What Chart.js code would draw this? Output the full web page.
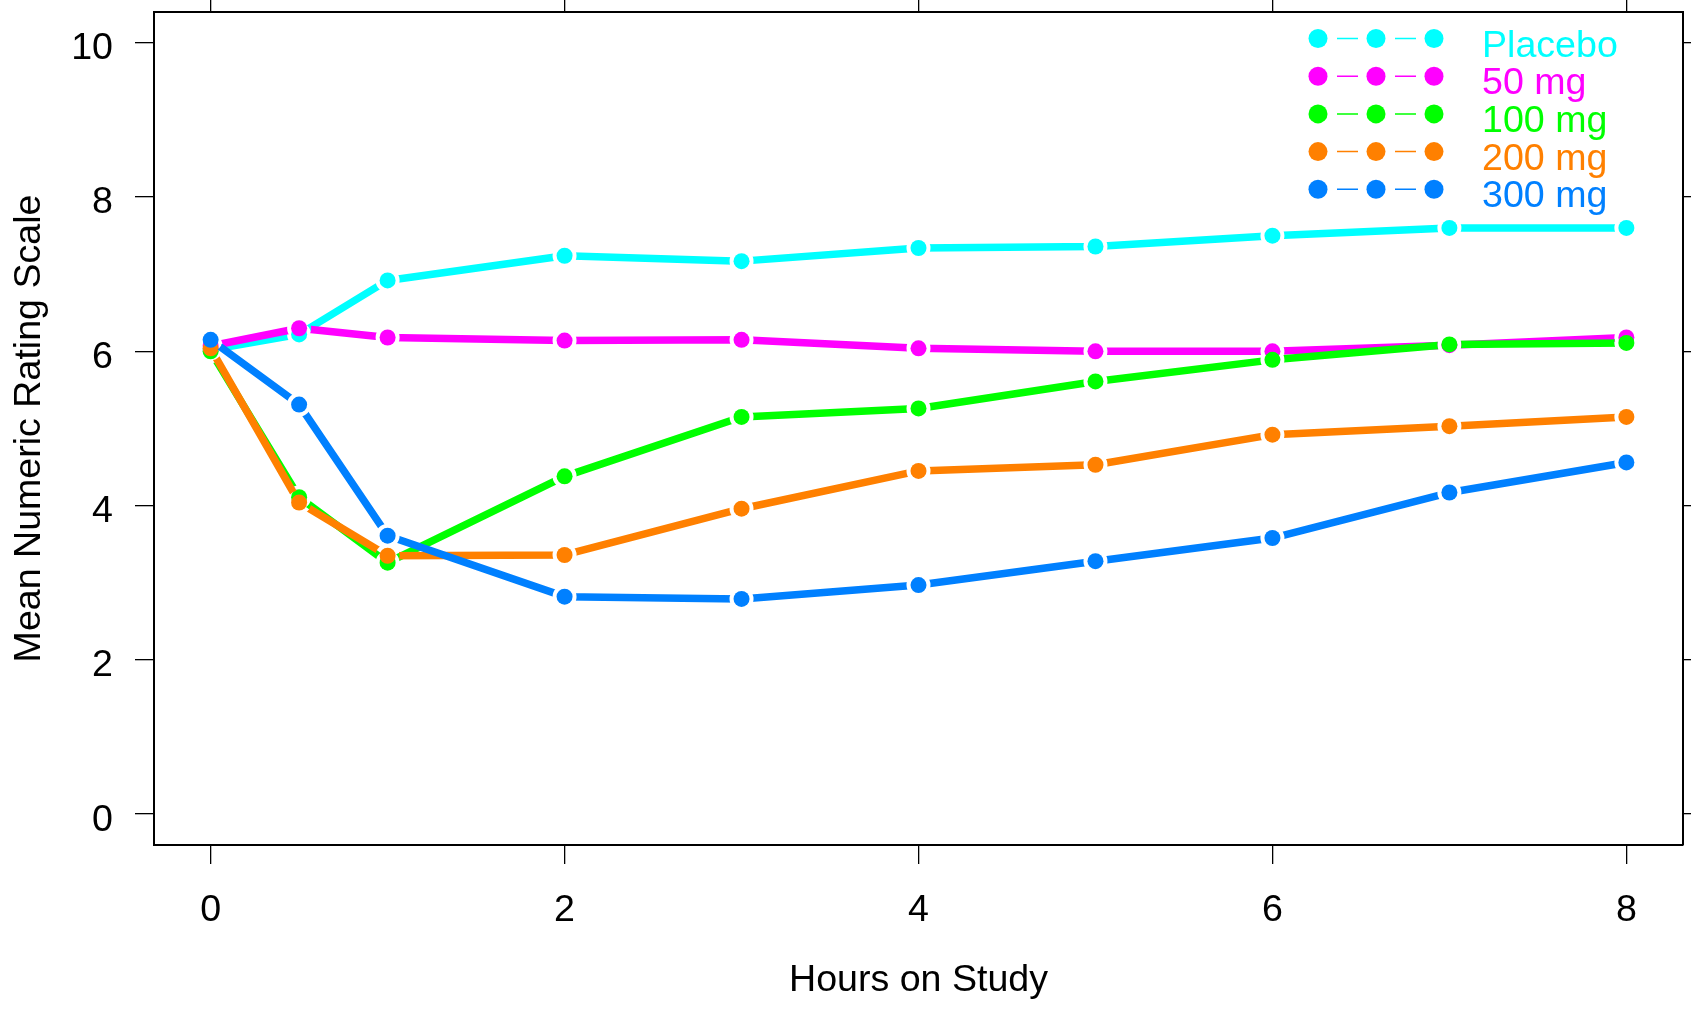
<!DOCTYPE html>
<html>
<head>
<meta charset="utf-8">
<script src="https://cdn.jsdelivr.net/npm/chart.js@4/dist/chart.umd.min.js"></script>
<style>
  body { margin: 0; background: #fff; }
  canvas { display: block; }
</style>
</head>
<body>
<canvas id="nrs-chart" width="1691" height="1012"></canvas>
<script>
var hours = [0, 0.5, 1, 2, 3, 4, 5, 6, 7, 8];

var placebo = [6.02, 6.22, 6.92, 7.24, 7.17, 7.34, 7.36, 7.50, 7.60, 7.60];
var mg50    = [6.07, 6.30, 6.18, 6.14, 6.15, 6.04, 6.00, 6.00, 6.08, 6.18];
var mg100   = [6.00, 4.11, 3.26, 4.38, 5.15, 5.26, 5.61, 5.89, 6.09, 6.11];
var mg200   = [6.04, 4.04, 3.35, 3.36, 3.96, 4.45, 4.53, 4.92, 5.03, 5.15];
var mg300   = [6.15, 5.31, 3.61, 2.82, 2.79, 2.97, 3.28, 3.58, 4.17, 4.56];

var seriesNames = ["Placebo", "50 mg", "100 mg", "200 mg", "300 mg"];
var seriesColors = ["#00FFFF", "#FF00FF", "#00FF00", "#FF8000", "#0080FF"];
var seriesValues = [placebo, mg50, mg100, mg200, mg300];

var xTicks = [0, 2, 4, 6, 8];
var yTicks = [0, 2, 4, 6, 8, 10];

var FONT = "'Liberation Sans', Arial, Helvetica, sans-serif";
var FONT_SIZE = 37.6;

function toPoints(values) {
    return values.map(function (v, i) { return {x: hours[i], y: v}; });
}

// R style type="b": each line gets cut around its own points
var gapPlugin = {
    id: "gaps",
    beforeDatasetDraw: function (chart, args) {
        var ds = chart.data.datasets[args.index];
        if (!ds.gap) return;
        var ctx = chart.ctx;
        ctx.save();
        ctx.beginPath();
        ctx.rect(0, 0, chart.width, chart.height);
        args.meta.data.forEach(function (pt) {
            ctx.moveTo(pt.x + ds.gap, pt.y);
            ctx.arc(pt.x, pt.y, ds.gap, 0, Math.PI * 2);
        });
        ctx.clip("evenodd");
    },
    afterDatasetDraw: function (chart, args) {
        var ds = chart.data.datasets[args.index];
        if (ds.gap) chart.ctx.restore();
    }
};

var legendPlugin = {
    id: "rlegend",
    afterDraw: function (chart) {
        var ctx = chart.ctx;
        var dotX = [1318, 1376, 1434];
        ctx.save();
        ctx.font = FONT_SIZE + "px " + FONT;
        ctx.textAlign = "left";
        ctx.textBaseline = "alphabetic";
        seriesNames.forEach(function (name, i) {
            var y = 38.5 + i * 37.7;
            var col = seriesColors[i];
            ctx.strokeStyle = col;
            ctx.lineWidth = 1.5;
            ctx.beginPath();
            ctx.moveTo(1337, y); ctx.lineTo(1358, y);
            ctx.moveTo(1395, y); ctx.lineTo(1416, y);
            ctx.stroke();
            ctx.fillStyle = col;
            dotX.forEach(function (x) {
                ctx.beginPath();
                ctx.arc(x, y, 9.5, 0, Math.PI * 2);
                ctx.fill();
            });
            ctx.fillText(name, 1482, y + 18);
        });
        ctx.restore();
    }
};

var datasets = [];
seriesValues.forEach(function (vals, i) {
    datasets.push({
        label: seriesNames[i],
        data: toPoints(vals),
        borderColor: seriesColors[i],
        borderWidth: 7.5,
        borderCapStyle: "round",
        borderJoinStyle: "round",
        pointRadius: 0,
        tension: 0,
        gap: 12,
        order: 100 - 2 * i
    });
    datasets.push({
        label: seriesNames[i] + " points",
        data: toPoints(vals),
        showLine: false,
        pointRadius: 8,
        pointBorderWidth: 0,
        pointBackgroundColor: seriesColors[i],
        order: 99 - 2 * i
    });
});

function fixTicks(values) {
    return function (scale) {
        scale.ticks = values.map(function (v) { return {value: v}; });
    };
}

function fitTo(prop, size) {
    return function (s) {
        s[prop] = size;
        s.paddingTop = 0; s.paddingBottom = 0;
        s.paddingLeft = 0; s.paddingRight = 0;
    };
}

function axisGrid(len) {
    return {display: true, drawOnChartArea: false, drawTicks: true, tickLength: len, color: "#000", lineWidth: 1.3};
}

var border = {display: true, color: "#000", width: 2};

new Chart("nrs-chart", {
    type: "line",
    data: {datasets: datasets},
    options: {
        responsive: false,
        animation: false,
        events: [],
        layout: {padding: 0},
        plugins: {legend: {display: false}, tooltip: {enabled: false}},
        scales: {
            x: {
                type: "linear",
                position: "bottom",
                min: -0.32,
                max: 8.32,
                afterBuildTicks: fixTicks(xTicks),
                afterFit: fitTo("height", 167),
                grid: axisGrid(19),
                border: border,
                ticks: {color: "#000", padding: 24, maxRotation: 0, font: {family: FONT, size: FONT_SIZE}},
                title: {display: true, text: "Hours on Study", color: "#000", padding: {bottom: 9, top: 0}, font: {family: FONT, size: FONT_SIZE}}
            },
            x2: {
                type: "linear",
                position: "top",
                min: -0.32,
                max: 8.32,
                afterBuildTicks: fixTicks(xTicks),
                afterFit: fitTo("height", 12),
                grid: axisGrid(12),
                border: border,
                ticks: {display: false}
            },
            y: {
                type: "linear",
                position: "left",
                min: -0.4,
                max: 10.4,
                afterBuildTicks: fixTicks(yTicks),
                afterFit: fitTo("width", 154),
                grid: axisGrid(19),
                border: border,
                ticks: {color: "#000", padding: 22, labelOffset: 6, font: {family: FONT, size: FONT_SIZE}},
                title: {display: true, text: "Mean Numeric Rating Scale", color: "#000", padding: {top: 7, bottom: 0}, font: {family: FONT, size: FONT_SIZE}}
            },
            y2: {
                type: "linear",
                position: "right",
                min: -0.4,
                max: 10.4,
                afterBuildTicks: fixTicks(yTicks),
                afterFit: fitTo("width", 8),
                grid: axisGrid(8),
                border: border,
                ticks: {display: false}
            }
        }
    },
    plugins: [gapPlugin, legendPlugin]
});
</script>
</body>
</html>
